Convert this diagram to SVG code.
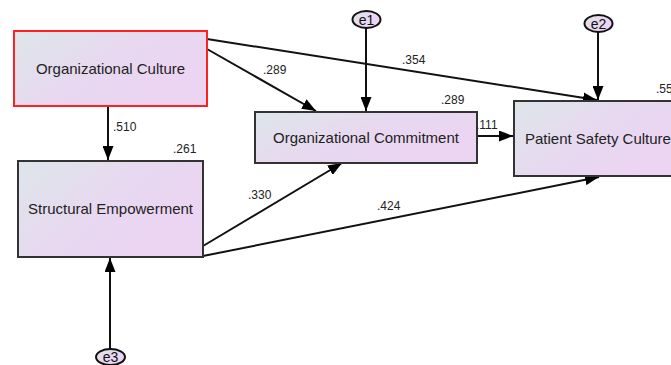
<svg xmlns="http://www.w3.org/2000/svg" width="671" height="365" viewBox="0 0 671 365">
<defs>
<linearGradient id="g" x1="0" y1="0" x2="1" y2="0.6">
<stop offset="0" stop-color="#dde6ea"/>
<stop offset="0.55" stop-color="#e8d8f0"/>
<stop offset="1" stop-color="#ecd4f3"/>
</linearGradient>
<marker id="ah" markerUnits="userSpaceOnUse" markerWidth="15" markerHeight="11" refX="14" refY="5.5" orient="auto">
<path d="M0,0 L14,5.5 L0,11 z" fill="#000"/>
</marker>
<style>
.box{fill:url(#g);stroke:#333;stroke-width:2}
.err{fill:url(#g);stroke:#111;stroke-width:2}
.lbl{font-family:"Liberation Sans",Arial,sans-serif;font-size:15px;fill:#222}
.num{font-family:"Liberation Sans",Arial,sans-serif;font-size:12px;fill:#222}
.etx{font-family:"Liberation Sans",Arial,sans-serif;font-size:14px;fill:#111;text-anchor:middle}
.ln{stroke:#111;stroke-width:2;fill:none;marker-end:url(#ah)}
</style>
</defs>
<rect width="671" height="365" fill="#fff"/>
<g id="connectors">
<line class="ln" x1="366" y1="28" x2="366" y2="111"/>
<line class="ln" x1="598" y1="32" x2="598" y2="100"/>
<line class="ln" x1="110" y1="349" x2="110" y2="258"/>
<line class="ln" x1="108" y1="106" x2="108" y2="160"/>
<line class="ln" x1="207" y1="49" x2="316" y2="111"/>
<line class="ln" x1="207" y1="39" x2="597" y2="100"/>
<line class="ln" x1="203" y1="246" x2="342" y2="163"/>
<line class="ln" x1="203" y1="256" x2="599" y2="177"/>
<line class="ln" x1="477" y1="136" x2="513" y2="136"/>
<text class="num" x="113" y="131">.510</text>
<text class="num" x="263" y="74">.289</text>
<text class="num" x="402" y="64">.354</text>
<text class="num" x="476" y="129">.111</text>
<text class="num" x="248" y="199">.330</text>
<text class="num" x="377" y="210">.424</text>
</g>
<g id="orgCulture">
<rect x="14" y="31" width="193" height="75" fill="url(#g)" stroke="#ff2020" stroke-width="2"/>
<text class="lbl" x="110.5" y="74" text-anchor="middle">Organizational Culture</text>
</g>
<g id="structEmp">
<rect class="box" x="18" y="161" width="185" height="96"/>
<text class="lbl" x="110.5" y="213.5" text-anchor="middle">Structural Empowerment</text>
<text class="num" x="173" y="153">.261</text>
</g>
<g id="orgCommit">
<rect class="box" x="255" y="112" width="222" height="51"/>
<text class="lbl" x="366" y="143" text-anchor="middle">Organizational Commitment</text>
<text class="num" x="441" y="104">.289</text>
</g>
<g id="patientSafety">
<rect class="box" x="514" y="101" width="172" height="75"/>
<text class="lbl" x="525" y="144">Patient Safety Culture</text>
<text class="num" x="656" y="93">.55</text>
</g>
<g id="e1">
<ellipse class="err" cx="366.5" cy="19.5" rx="14" ry="8.5"/>
<text class="etx" x="366.5" y="24.5">e1</text>
</g>
<g id="e2">
<ellipse class="err" cx="598.5" cy="23.5" rx="14" ry="8.5"/>
<text class="etx" x="598.5" y="28.5">e2</text>
</g>
<g id="e3">
<ellipse class="err" cx="110.5" cy="357" rx="14.5" ry="8"/>
<text class="etx" x="110.5" y="362">e3</text>
</g>
</svg>
